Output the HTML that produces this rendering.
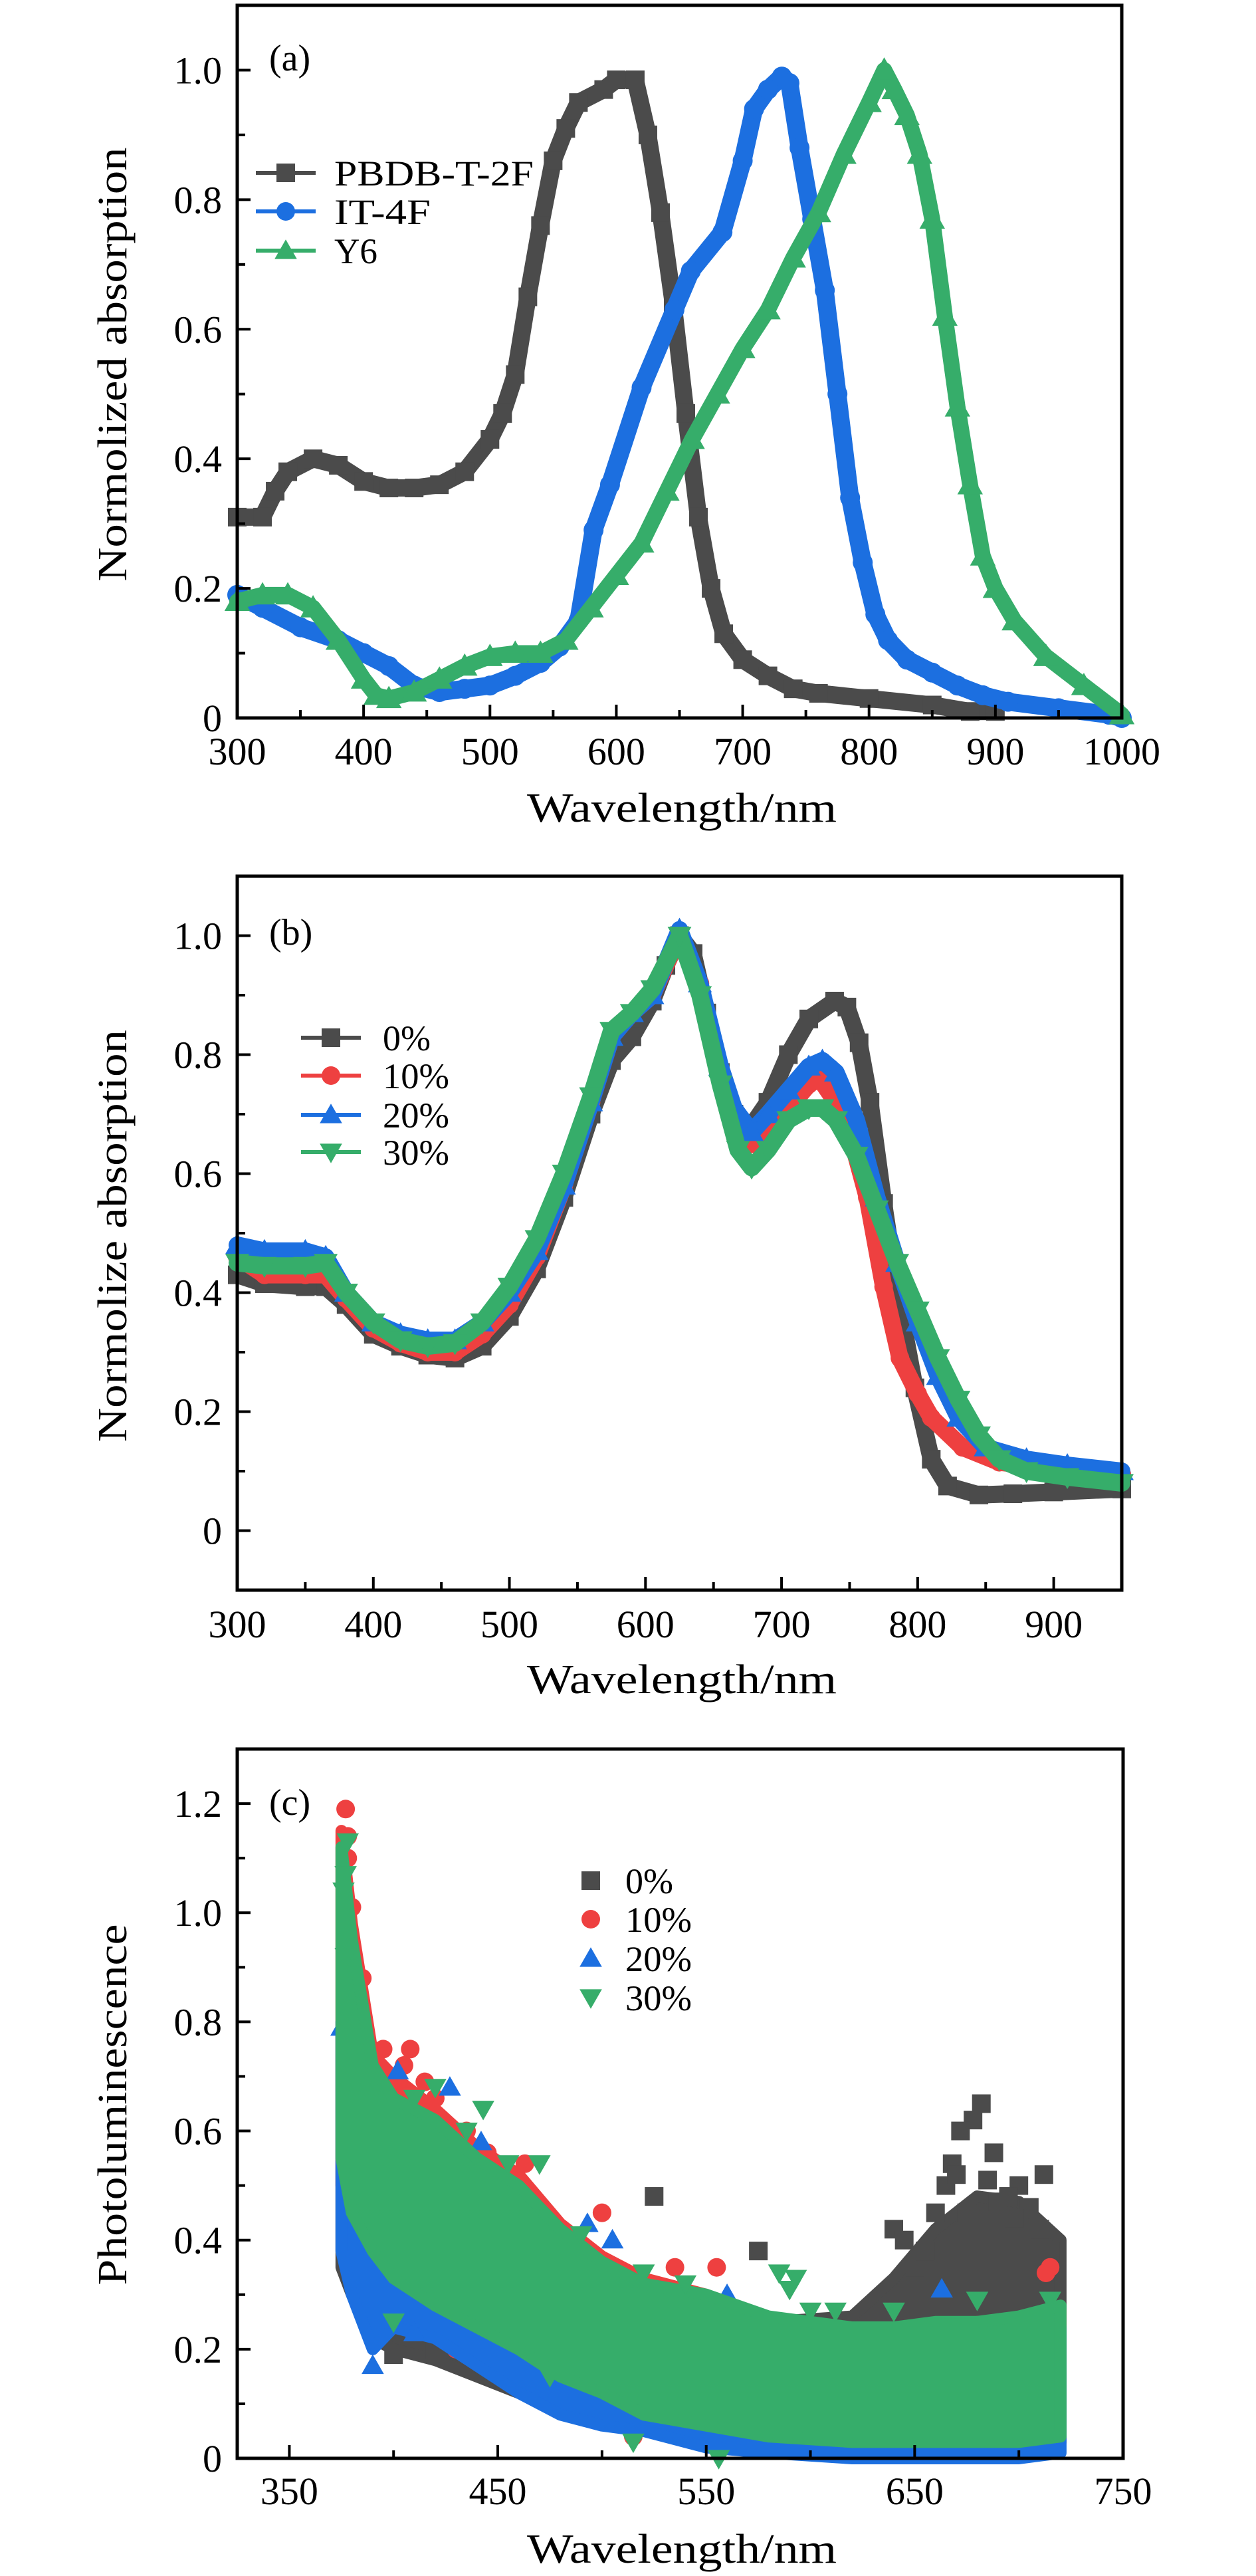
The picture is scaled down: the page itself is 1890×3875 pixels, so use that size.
<!DOCTYPE html>
<html><head><meta charset="utf-8"><style>
html,body{margin:0;padding:0;background:#fff}
svg{display:block}
text{font-family:"Liberation Serif",serif;fill:#000}
</style></head><body>
<svg id="fig" width="1890" height="3875" viewBox="0 0 1890 3875" xmlns="http://www.w3.org/2000/svg"></svg>
<script>
// ---------- Panel (a) data ----------
const aPbdbX=[300,320,330,340,360,380,400,420,440,460,480,500,510,520,530,540,550,560,570,590,600,615,625,635,645,655,665,675,685,700,720,740,760,800,850,880,900];
const aPbdbY=[0.31,0.31,0.35,0.38,0.40,0.39,0.365,0.355,0.355,0.36,0.38,0.43,0.47,0.53,0.65,0.76,0.86,0.91,0.95,0.97,0.985,0.985,0.9,0.78,0.64,0.47,0.31,0.2,0.13,0.09,0.065,0.045,0.038,0.03,0.02,0.01,0.01];
const aItX=[300,320,350,380,400,420,440,460,480,500,520,540,555,570,582,595,620,646,659,684,700,709,720,731,737,745,755,765,775,785,795,805,815,830,850,870,890,910,950,990,1000];
const aItY=[0.19,0.17,0.14,0.12,0.10,0.08,0.05,0.04,0.045,0.05,0.065,0.085,0.11,0.15,0.29,0.36,0.51,0.63,0.69,0.75,0.86,0.94,0.97,0.99,0.98,0.88,0.77,0.66,0.50,0.34,0.24,0.16,0.12,0.09,0.07,0.05,0.035,0.025,0.015,0.005,0.0];
const aY6X=[300,320,340,360,380,400,410,420,440,460,480,500,520,540,560,580,600,620,640,660,680,700,720,740,760,780,800,812,820,830,840,850,860,870,880,890,900,915,940,970,1000];
const aY6Y=[0.18,0.19,0.19,0.17,0.12,0.06,0.035,0.03,0.04,0.06,0.08,0.095,0.10,0.10,0.12,0.17,0.22,0.27,0.35,0.43,0.50,0.57,0.63,0.71,0.78,0.87,0.95,1.0,0.97,0.93,0.87,0.77,0.62,0.48,0.36,0.25,0.20,0.15,0.095,0.05,0.005];
const aTicksX=[300,400,500,600,700,800,900,1000];
const aTicksY=[0,0.2,0.4,0.6,0.8,1.0];
const aTickLabelsY=["0","0.2","0.4","0.6","0.8","1.0"];
// ---------- Panel (b) data ----------
const bX0=[300,320,350,365,380,400,420,440,460,480,500,520,540,560,575,590,605,615,625,635,645,655,665,678,690,705,720,739,748,757,765,775,785,798,810,822,845,870,900,950];
const bY0=[0.43,0.415,0.41,0.41,0.38,0.33,0.31,0.295,0.29,0.31,0.36,0.44,0.56,0.70,0.79,0.83,0.89,0.95,1.0,0.97,0.87,0.77,0.70,0.68,0.72,0.80,0.86,0.89,0.88,0.82,0.72,0.55,0.40,0.24,0.12,0.075,0.06,0.062,0.065,0.07];
const bX10=[300,320,350,365,380,400,420,440,460,480,500,520,540,560,575,590,605,625,640,655,665,678,690,705,720,728,740,750,763,775,787,800,810,833,860,900,950];
const bY10=[0.46,0.43,0.43,0.43,0.39,0.34,0.315,0.30,0.30,0.33,0.38,0.46,0.58,0.72,0.83,0.87,0.90,1.0,0.92,0.76,0.70,0.65,0.67,0.71,0.75,0.76,0.72,0.67,0.56,0.41,0.29,0.23,0.19,0.14,0.115,0.105,0.095];
const bX20=[300,320,350,365,380,400,420,440,460,480,500,520,540,560,575,590,605,625,640,655,665,678,690,705,720,730,740,755,770,785,800,815,830,850,880,910,950];
const bY20=[0.48,0.47,0.47,0.46,0.40,0.35,0.33,0.32,0.32,0.35,0.40,0.47,0.58,0.72,0.83,0.87,0.90,1.01,0.92,0.78,0.71,0.67,0.70,0.74,0.78,0.79,0.77,0.69,0.56,0.45,0.35,0.26,0.19,0.14,0.12,0.11,0.10];
const bX30=[300,320,350,365,380,400,420,440,460,480,500,520,540,560,575,590,605,625,640,655,668,678,690,705,720,730,740,755,770,785,800,815,830,845,860,880,910,950];
const bY30=[0.45,0.445,0.445,0.45,0.40,0.35,0.32,0.31,0.315,0.35,0.41,0.49,0.60,0.73,0.84,0.87,0.91,1.0,0.90,0.75,0.64,0.61,0.64,0.69,0.71,0.71,0.69,0.63,0.54,0.45,0.37,0.29,0.22,0.16,0.12,0.10,0.09,0.08];
const bTicksX=[300,400,500,600,700,800,900];
const bTicksY=[0,0.2,0.4,0.6,0.8,1.0];
const bTickLabelsY=["0","0.2","0.4","0.6","0.8","1.0"];
// ---------- Panel (c) data ----------
const cBandX=[375,380,390,400,420,440,460,480,500,520,550,580,620,640,660,680,700,720];
const cGreenHi=[1.12,0.95,0.72,0.66,0.62,0.55,0.50,0.42,0.36,0.32,0.30,0.26,0.24,0.24,0.25,0.25,0.26,0.28];
const cGreenLo=[0.55,0.45,0.38,0.33,0.28,0.24,0.20,0.15,0.12,0.08,0.06,0.04,0.03,0.03,0.03,0.03,0.03,0.04];
const cRedHi=[1.15,0.98,0.74,0.70,0.64,0.57,0.52,0.43,0.37,0.33,0.30,0.25,0.24,0.24,0.24,0.25,0.25,0.27];
const cRedLo=[0.50,0.40,0.34,0.30,0.25,0.20,0.15,0.10,0.08,0.06,0.04,0.03,0.02,0.02,0.02,0.02,0.02,0.03];
const cBlueHi=[0.80,0.70,0.62,0.62,0.60,0.52,0.46,0.40,0.34,0.30,0.27,0.24,0.22,0.22,0.22,0.22,0.22,0.24];
const cBlueLo=[0.38,0.30,0.20,0.24,0.22,0.17,0.12,0.08,0.06,0.05,0.02,0.01,0.0,0.0,0.0,0.0,0.0,0.01];
const cGrayHi=[0.78,0.70,0.60,0.60,0.58,0.50,0.46,0.40,0.34,0.30,0.28,0.25,0.26,0.33,0.42,0.48,0.47,0.40];
const cGrayLo=[0.35,0.30,0.22,0.20,0.18,0.15,0.12,0.09,0.08,0.06,0.04,0.03,0.03,0.03,0.03,0.03,0.03,0.03];
const cGrayPtsX=[682,678,672,688,712,668,700,640,575,525,460,400,420,690,660,710,650,665,695,705,645,670,685,698,715,655,675];
const cGrayPtsY=[0.65,0.62,0.60,0.56,0.52,0.54,0.50,0.42,0.38,0.48,0.49,0.19,0.20,0.47,0.45,0.42,0.35,0.50,0.48,0.46,0.40,0.52,0.51,0.44,0.38,0.38,0.45];
const cRedPtsX=[377,378,378,380,385,395,408,405,415,435,463,500,475,535,555,715,430,450,515,713,420,445,490];
const cRedPtsY=[1.19,1.14,1.10,1.01,0.88,0.75,0.75,0.72,0.69,0.60,0.54,0.45,0.43,0.35,0.35,0.35,0.20,0.16,0.04,0.34,0.66,0.56,0.38];
const cBluePtsX=[402,427,442,390,493,505,560,663,375,410,425,470];
const cBluePtsY=[0.71,0.68,0.58,0.17,0.43,0.40,0.30,0.31,0.79,0.23,0.27,0.28];
const cGreenPtsX=[378,377,376,377,443,435,585,593,590,600,612,540,470,515,556,475,420,410,400,455,490,520,640,680,715];
const cGreenPtsY=[1.13,1.07,1.04,0.92,0.64,0.60,0.34,0.33,0.31,0.27,0.27,0.32,0.54,0.03,0.0,0.15,0.68,0.66,0.25,0.54,0.41,0.34,0.27,0.29,0.29];
const cTicksX=[350,450,550,650,750];
const cTicksY=[0,0.2,0.4,0.6,0.8,1.0,1.2];
const cTickLabelsY=["0","0.2","0.4","0.6","0.8","1.0","1.2"];

const NS="http://www.w3.org/2000/svg";
const svg=document.getElementById('fig');
function mk(tag,attrs,parent){const e=document.createElementNS(NS,tag);for(const k in attrs)e.setAttribute(k,attrs[k]);(parent||svg).appendChild(e);return e;}
const GRAY="#4b4b4b",BLUE="#1c6fe0",GREEN="#36ad6a",RED="#ee4040";

function marker(g,type,x,y,s,color){
  let e;
  if(type==='sq'){e=mk('rect',{x:x-s/2,y:y-s/2,width:s,height:s,fill:color},g);}
  else if(type==='ci'){e=mk('circle',{cx:x,cy:y,r:s/2,fill:color},g);}
  else if(type==='up'){e=mk('polygon',{points:`${x},${y-s*0.6} ${x-s*0.6},${y+s*0.45} ${x+s*0.6},${y+s*0.45}`,fill:color},g);}
  else {e=mk('polygon',{points:`${x},${y+s*0.6} ${x-s*0.6},${y-s*0.45} ${x+s*0.6},${y-s*0.45}`,fill:color},g);}
  return e;
}
function axes(P){
  const sx=v=>P.L+(v-P.x0)/(P.x1-P.x0)*(P.R-P.L);
  const sy=v=>P.B-(v-P.y0)/(P.y1-P.y0)*(P.B-P.T);
  P.sx=sx;P.sy=sy;
  return P;
}
function frame(P,id){
  const g=mk('g',{});
  
  
  mk('rect',{x:P.L,y:P.T,width:P.R-P.L,height:P.B-P.T,fill:'none',stroke:'#000','stroke-width':5},g);
  P.ticksX.forEach(v=>{const x=P.sx(v);mk('line',{x1:x,x2:x,y1:P.B,y2:P.B-20,stroke:'#000','stroke-width':4},g);
    const t=mk('text',{x:x,y:P.labY,'font-size':58,'text-anchor':'middle'},g);t.textContent=String(v);
    
    });
  P.minorX.forEach(v=>{const x=P.sx(v);mk('line',{x1:x,x2:x,y1:P.B,y2:P.B-12,stroke:'#000','stroke-width':4},g);});
  P.ticksY.forEach((v,i)=>{const y=P.sy(v);mk('line',{x1:P.L,x2:P.L+20,y1:y,y2:y,stroke:'#000','stroke-width':4},g);
    const t=mk('text',{x:334,y:y+20,'font-size':58,'text-anchor':'end'},g);t.textContent=P.labelsY[i];
    
    });
  P.minorY.forEach(v=>{const y=P.sy(v);mk('line',{x1:P.L,x2:P.L+12,y1:y,y2:y,stroke:'#000','stroke-width':4},g);});
  const xt=mk('text',{x:1026,y:P.xTitleY,'font-size':62,'text-anchor':'middle',textLength:466,lengthAdjust:'spacingAndGlyphs'},g);
  xt.textContent='Wavelength/nm';
  
  
  const yt=mk('text',{x:0,y:0,'font-size':62,'text-anchor':'middle',textLength:P.yTitleLen,lengthAdjust:'spacingAndGlyphs',transform:`translate(190,${P.yTitleC}) rotate(-90)`},g);
  yt.textContent=P.yTitle;
  
  
  const pl=mk('text',{x:P.L+48,y:P.panelY,'font-size':56},g);
  pl.textContent=P.panel;
  
  
}
function series(P,xs,ys,color,type,name,lineW,ms){
  const g=mk('g',{});
  
  
  const pts=xs.map((x,i)=>P.sx(x)+','+P.sy(ys[i])).join(' ');
  mk('polyline',{points:pts,fill:'none',stroke:color,'stroke-width':lineW,'stroke-linejoin':'round','stroke-linecap':'round'},g);
  xs.forEach((x,i)=>{const m=marker(g,type,P.sx(x),P.sy(ys[i]),ms,color);
    
    });
}
function legend(entries,x,textX,ys,tlen,withLine){
  const g=mk('g',{});
  
  
  entries.forEach((en,i)=>{
    const eg=mk('g',{},g);
    
    
    if(withLine) mk('line',{x1:x-45,x2:x+45,y1:ys[i],y2:ys[i],stroke:en.c,'stroke-width':6},eg);
    marker(eg,en.t,x,ys[i],28,en.c);
    const t=mk('text',{x:textX,y:ys[i]+19,'font-size':54,textLength:tlen[i],lengthAdjust:'spacingAndGlyphs'},eg);
    t.textContent=en.n;
  });
}
// ---------- Panel a ----------
const A=axes({L:357,R:1688,T:8,B:1080,x0:300,x1:1000,y0:0,y1:1.1});
A.ticksX=aTicksX;A.minorX=[350,450,550,650,750,850,950];A.ticksY=aTicksY;A.labelsY=aTickLabelsY;A.minorY=[0.1,0.3,0.5,0.7,0.9];
A.labY=1150;A.xTitleY=1236;A.yTitle='Normolized absorption';A.yTitleLen=653;A.yTitleC=548;A.panel='(a)';A.panelY=106;
series(A,aPbdbX,aPbdbY,GRAY,'sq','series-pbdb-t-2f',26,28);
series(A,aItX,aItY,BLUE,'ci','series-it-4f',27,30);
series(A,aY6X,aY6Y,GREEN,'up','series-y6',24,32);
frame(A,'panel-a');
legend([{n:'PBDB-T-2F',c:GRAY,t:'sq'},{n:'IT-4F',c:BLUE,t:'ci'},{n:'Y6',c:GREEN,t:'up'}],430,503,[260,318,377],[300,145,65],true);
// ---------- Panel b ----------
const B=axes({L:357,R:1688,T:1318,B:2392,x0:300,x1:950,y0:-0.1,y1:1.1});
B.ticksX=bTicksX;B.minorX=[350,450,550,650,750,850];B.ticksY=bTicksY;B.labelsY=bTickLabelsY;B.minorY=[-0.1,0.1,0.3,0.5,0.7,0.9];
B.labY=2463;B.xTitleY=2547;B.yTitle='Normolize absorption';B.yTitleLen=620;B.yTitleC=1859;B.panel='(b)';B.panelY=1421;
series(B,bX0,bY0,GRAY,'sq','series-0pct',26,28);
series(B,bX10,bY10,RED,'ci','series-10pct',26,28);
series(B,bX20,bY20,BLUE,'up','series-20pct',26,30);
series(B,bX30,bY30,GREEN,'dn','series-30pct',26,30);
frame(B,'panel-b');
legend([{n:'0%',c:GRAY,t:'sq'},{n:'10%',c:RED,t:'ci'},{n:'20%',c:BLUE,t:'up'},{n:'30%',c:GREEN,t:'dn'}],498,576,[1561,1618,1677,1733],[72,100,100,100],true);
// ---------- Panel c ----------
const C=axes({L:357,R:1690,T:2631,B:3698,x0:325,x1:750,y0:0,y1:1.3});
C.ticksX=cTicksX;C.minorX=[400,500,600,700];C.ticksY=cTicksY;C.labelsY=cTickLabelsY;C.minorY=[0.1,0.3,0.5,0.7,0.9,1.1];
C.labY=3767;C.xTitleY=3855;C.yTitle='Photoluminescence';C.yTitleLen=543;C.yTitleC=3166;C.panel='(c)';C.panelY=2730;
function band(P,xs,hi,lo,color,name){
  const g=mk('g',{});
  
  
  const top=xs.map((x,i)=>P.sx(x)+','+P.sy(hi[i]));
  const bot=xs.map((x,i)=>P.sx(x)+','+P.sy(lo[i])).reverse();
  mk('polygon',{points:top.concat(bot).join(' '),fill:color,stroke:color,'stroke-width':18,'stroke-linejoin':'round'},g);
}
function pts(P,xs,ys,color,type,name){
  const g=mk('g',{});
  
  
  xs.forEach((x,i)=>{const m=marker(g,type,P.sx(x),P.sy(ys[i]),28,color);
    
    });
}
band(C,cBandX,cGrayHi,cGrayLo,GRAY,'band-0pct');
pts(C,cGrayPtsX,cGrayPtsY,GRAY,'sq','scatter-0pct');
band(C,cBandX,cRedHi,cRedLo,RED,'band-10pct');
pts(C,cRedPtsX,cRedPtsY,RED,'ci','scatter-10pct');
band(C,cBandX,cBlueHi,cBlueLo,BLUE,'band-20pct');
pts(C,cBluePtsX,cBluePtsY,BLUE,'up','scatter-20pct');
band(C,cBandX,cGreenHi,cGreenLo,GREEN,'band-30pct');
pts(C,cGreenPtsX,cGreenPtsY,GREEN,'dn','scatter-30pct');
frame(C,'panel-c');
legend([{n:'0%',c:GRAY,t:'sq'},{n:'10%',c:RED,t:'ci'},{n:'20%',c:BLUE,t:'up'},{n:'30%',c:GREEN,t:'dn'}],889,941,[2829,2887,2946,3005],[72,100,100,100],false);
</script>
</body></html>
